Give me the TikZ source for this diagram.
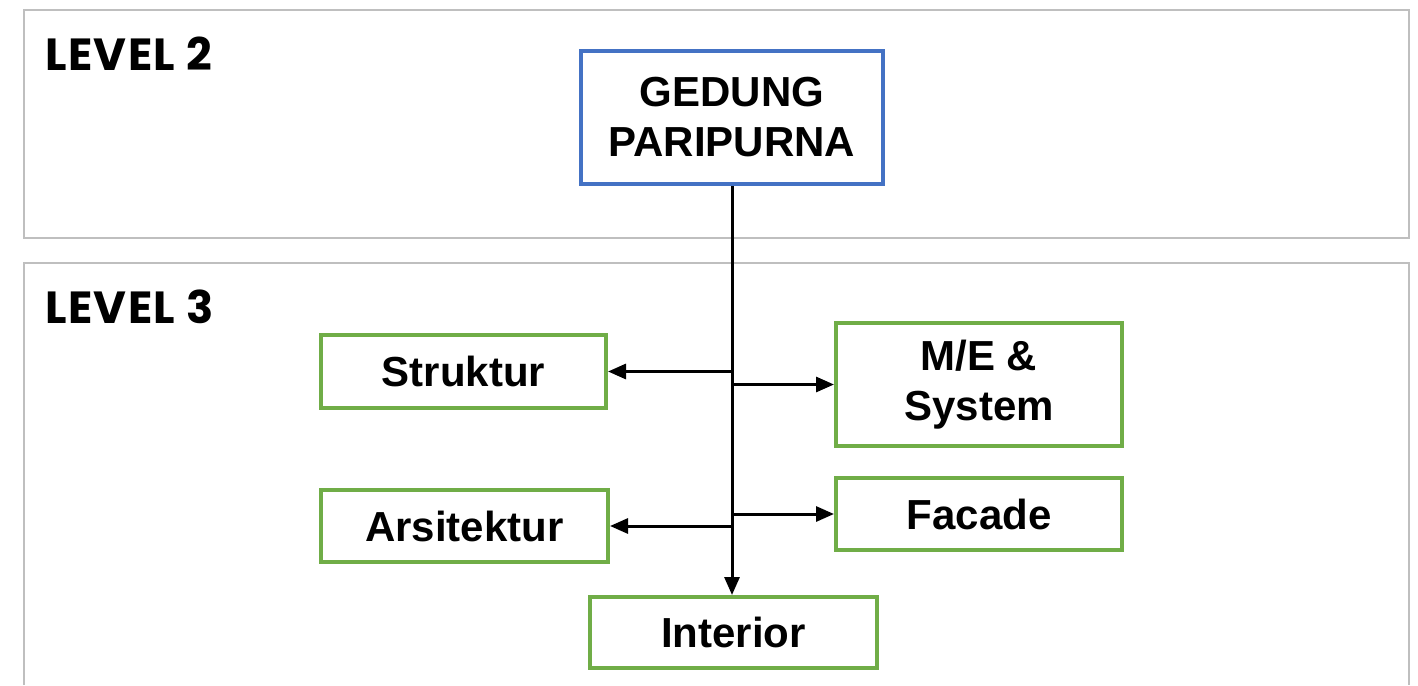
\documentclass[tikz,border=0pt]{standalone}
\usepackage{fontspec}
\setmainfont{Liberation Sans}
\newfontfamily\levelfont[LetterSpace=3]{Poppins}
\usetikzlibrary{positioning,arrows.meta}

\definecolor{boxblue}{HTML}{4472C4}
\definecolor{boxgreen}{HTML}{70AD47}
\definecolor{panelgray}{HTML}{BFBFBF}

\begin{document}
\begin{tikzpicture}[
    x=0.5pt, y=-0.5pt,
    panel/.style={draw=panelgray, line width=0.7pt},
    level/.style={anchor=base west, inner sep=0pt, font=\levelfont\bfseries\fontsize{22.5}{26}\selectfont},
    box/.style={rectangle, draw=boxgreen, line width=2pt, fill=white, inner sep=0pt,
        align=center, font=\bfseries\fontsize{21}{25}\selectfont},
    topbox/.style={box, draw=boxblue},
    arrow/.style={-{Triangle[length=9pt,width=7.5pt]}, line width=1.5pt}
]
\useasboundingbox (0,0) rectangle (1418,685);

\draw[panel] (24,10) rectangle (1409,238);
\draw[panel] (24,685) |- (1409,263) -- (1409,685);

\node[level] (lvltwo) at (45,70) {LEVEL 2};
\node[level] (lvlthree) at (45,323) {LEVEL 3};

\node[topbox, minimum width=151pt, minimum height=66.5pt] (gedung) at (732,117.5) {GEDUNG\\PARIPURNA};
\node[box, minimum width=142.5pt, minimum height=36.5pt] (struktur) at (463.5,371.5) {Struktur};
\node[box, minimum width=143pt, minimum height=61.5pt] (mesys) at (979,384.5) {M/E \&\\System};
\node[box, minimum width=143.5pt, minimum height=36pt] (arsitektur) at (464.5,526) {Arsitektur};
\node[box, minimum width=143pt, minimum height=36pt] (facade) at (979,514) {Facade};
\node[box, minimum width=143.5pt, minimum height=35.5pt] (interior) at (733.5,632.5) {Interior};

\draw[arrow] (gedung.south) |- (struktur.east);
\draw[arrow] (gedung.south) |- (mesys.west);
\draw[arrow] (gedung.south) |- (arsitektur.east);
\draw[arrow] (gedung.south) |- (facade.west);
\draw[arrow] (gedung.south) -- (gedung.south |- interior.north);

\end{tikzpicture}
\end{document}
